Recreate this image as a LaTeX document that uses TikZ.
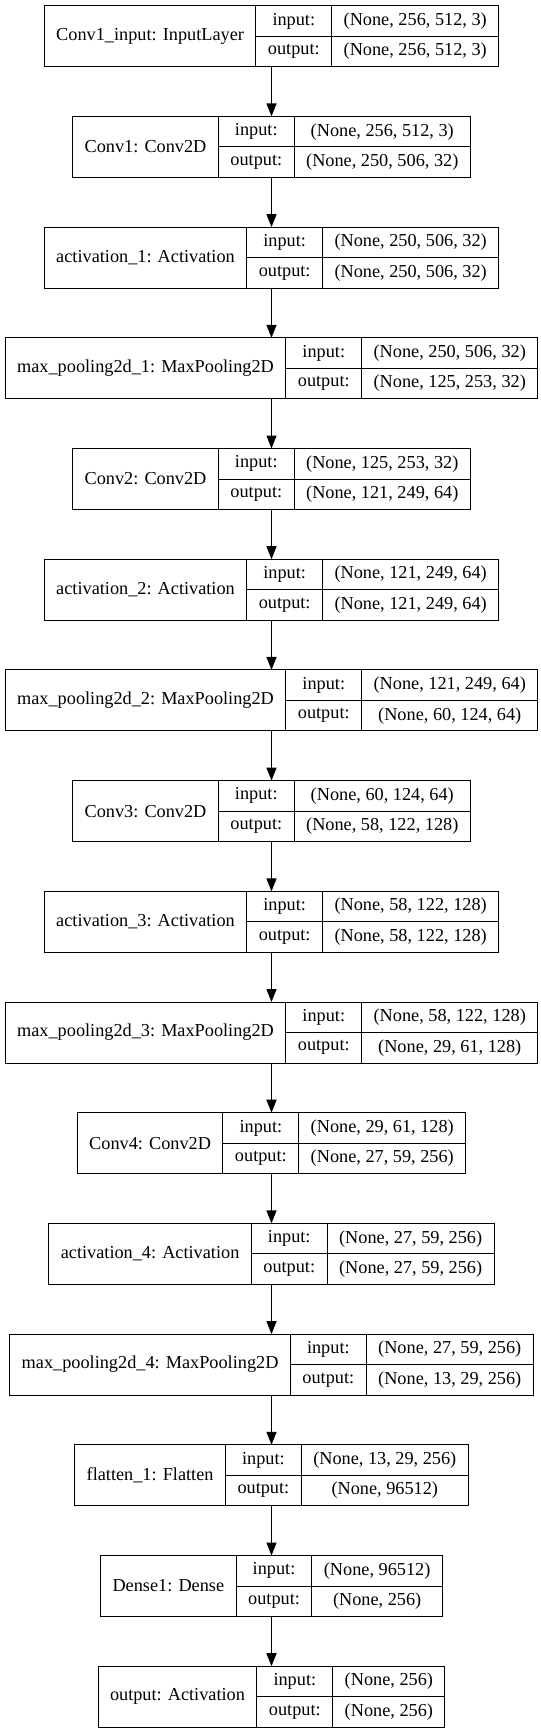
\documentclass[tikz,border=0pt]{standalone}
\usepackage{fontspec}
\setmainfont{Liberation Serif}
\usepackage{tikz}
\usetikzlibrary{arrows.meta}

\font\lfont="Liberation Serif" at 13.7pt
\newlength\namew
\newlength\keyw
\newlength\valw
\newlength\tmpw

\tikzset{
	cell/.style={draw,line width=0.75pt,inner sep=0pt,outer sep=0pt,font=\lfont},
	edge/.style={-{Triangle[length=9.75pt,width=7.5pt]},line width=1pt}
}

% one layer box: id, name, input shape, output shape, row
\newcommand{\layer}[5]{%
	\settowidth{\namew}{\lfont #2}\addtolength{\namew}{18pt}%
	\settowidth{\keyw}{\lfont output:}\addtolength{\keyw}{18pt}%
	\settowidth{\valw}{\lfont #3}\settowidth{\tmpw}{\lfont #4}%
	\ifdim\tmpw>\valw\setlength{\valw}{\tmpw}\fi
	\addtolength{\valw}{18pt}%
	\pgfmathsetmacro{\ymid}{-27.15-83.025*#5}%
	\node[cell,minimum width=\namew,minimum height=45.75pt,anchor=west] (#1)
		at ({203.625pt-0.5*\namew-0.5*\keyw-0.5*\valw},\ymid pt) {#2};
	\node[cell,minimum width=\keyw,minimum height=22.875pt,anchor=north west] (#1-ki) at (#1.north east) {input:};
	\node[cell,minimum width=\keyw,minimum height=22.875pt,anchor=north west] (#1-ko) at (#1-ki.south west) {output:};
	\node[cell,minimum width=\valw,minimum height=22.875pt,anchor=north west] (#1-vi) at (#1-ki.north east) {#3};
	\node[cell,minimum width=\valw,minimum height=22.875pt,anchor=north west] (#1-vo) at (#1-vi.south west) {#4};
	\coordinate (#1-top) at (203.625pt,\ymid pt+22.875pt);
	\coordinate (#1-bot) at (203.625pt,\ymid pt-22.875pt);
}

\begin{document}
\begin{tikzpicture}
	\useasboundingbox (0,0) rectangle (405pt,-1299.75pt);
	\layer{inp}{Conv1\_input: InputLayer}{(None, 256, 512, 3)}{(None, 256, 512, 3)}{0}
	\layer{conv1}{Conv1: Conv2D}{(None, 256, 512, 3)}{(None, 250, 506, 32)}{1}
	\layer{act1}{activation\_1: Activation}{(None, 250, 506, 32)}{(None, 250, 506, 32)}{2}
	\layer{pool1}{max\_pooling2d\_1: MaxPooling2D}{(None, 250, 506, 32)}{(None, 125, 253, 32)}{3}
	\layer{conv2}{Conv2: Conv2D}{(None, 125, 253, 32)}{(None, 121, 249, 64)}{4}
	\layer{act2}{activation\_2: Activation}{(None, 121, 249, 64)}{(None, 121, 249, 64)}{5}
	\layer{pool2}{max\_pooling2d\_2: MaxPooling2D}{(None, 121, 249, 64)}{(None, 60, 124, 64)}{6}
	\layer{conv3}{Conv3: Conv2D}{(None, 60, 124, 64)}{(None, 58, 122, 128)}{7}
	\layer{act3}{activation\_3: Activation}{(None, 58, 122, 128)}{(None, 58, 122, 128)}{8}
	\layer{pool3}{max\_pooling2d\_3: MaxPooling2D}{(None, 58, 122, 128)}{(None, 29, 61, 128)}{9}
	\layer{conv4}{Conv4: Conv2D}{(None, 29, 61, 128)}{(None, 27, 59, 256)}{10}
	\layer{act4}{activation\_4: Activation}{(None, 27, 59, 256)}{(None, 27, 59, 256)}{11}
	\layer{pool4}{max\_pooling2d\_4: MaxPooling2D}{(None, 27, 59, 256)}{(None, 13, 29, 256)}{12}
	\layer{flat}{flatten\_1: Flatten}{(None, 13, 29, 256)}{(None, 96512)}{13}
	\layer{dense}{Dense1: Dense}{(None, 96512)}{(None, 256)}{14}
	\layer{out}{output: Activation}{(None, 256)}{(None, 256)}{15}
	% connectors
	\foreach \a/\b in {inp/conv1,conv1/act1,act1/pool1,pool1/conv2,conv2/act2,act2/pool2,pool2/conv3,conv3/act3,act3/pool3,pool3/conv4,conv4/act4,act4/pool4,pool4/flat,flat/dense,dense/out}
		\draw[edge] (\a-bot) -- (\b-top);
\end{tikzpicture}
\end{document}
